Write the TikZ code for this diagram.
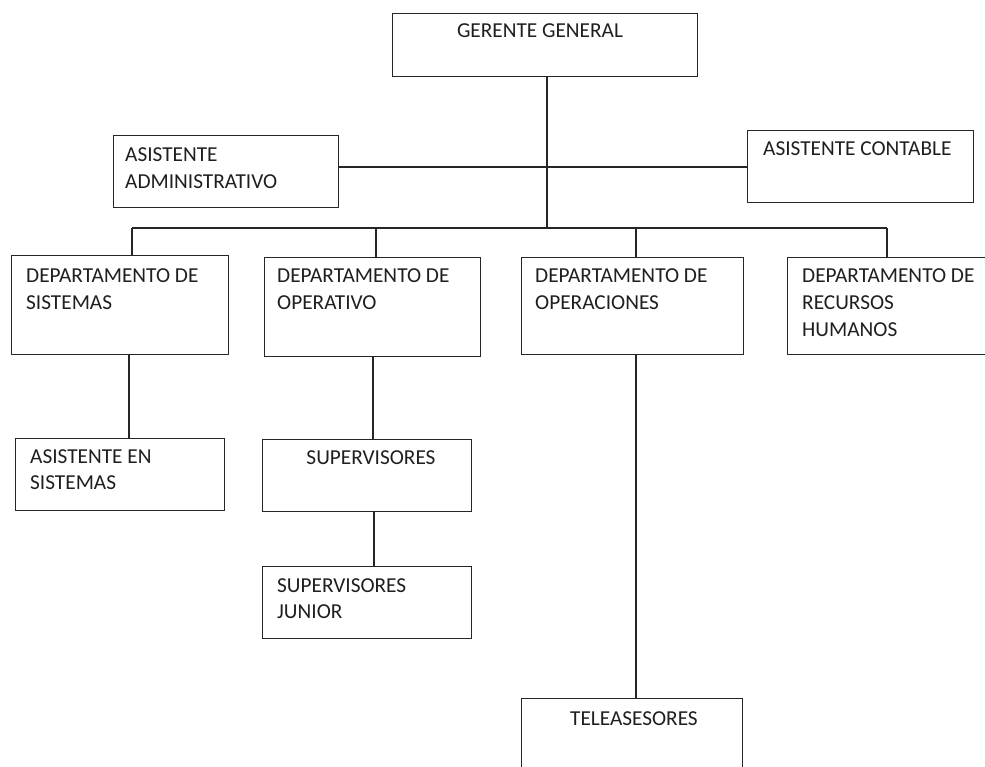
\documentclass[tikz,border=0pt]{standalone}
\usepackage{fontspec}
\setmainfont{Carlito}
\newcommand{\boxtxt}[1]{\parbox[t]{400pt}{\raggedright #1}}
\begin{document}
\begin{tikzpicture}[x=1pt,y=-1pt,
  box/.style={draw=black!85, line width=1.3pt, inner sep=0pt, anchor=north west},
  lbl/.style={inner sep=0pt, text=black!88, font=\fontsize{21.3}{26.6}\selectfont},
  conn/.style={draw=black!85, line width=1.3pt}]
\useasboundingbox (0,0) rectangle (985,767);
\fill[white] (0,0) rectangle (985,767);
\clip (0,0) rectangle (985,767);
% boxes
\node[box, minimum width=305pt, minimum height=63pt] (gg) at (392,13) {};
\node[box, minimum width=225pt, minimum height=72pt] (aa) at (113,135) {};
\node[box, minimum width=226pt, minimum height=72pt] (ac) at (747,130) {};
\node[box, minimum width=217pt, minimum height=99pt] (ds) at (11,255) {};
\node[box, minimum width=216pt, minimum height=99pt] (do) at (264,257) {};
\node[box, minimum width=222pt, minimum height=97pt] (dop) at (521,257) {};
\node[box, minimum width=223pt, minimum height=97pt] (dr) at (787,257) {};
\node[box, minimum width=209pt, minimum height=72pt] (as) at (15,438) {};
\node[box, minimum width=209pt, minimum height=72pt] (sup) at (262,439) {};
\node[box, minimum width=209pt, minimum height=72pt] (sj) at (262,566) {};
\node[box, minimum width=221pt, minimum height=100pt] (tel) at (521,698) {};
% labels
\node[lbl, anchor=base] (gg-t) at (540,38) {GERENTE GENERAL};
\node[lbl, anchor=base west] (aa-t) at (125,162) {\boxtxt{ASISTENTE\\ADMINISTRATIVO}};
\node[lbl, anchor=base west] (ac-t) at (763,156) {ASISTENTE CONTABLE};
\node[lbl, anchor=base west] (ds-t) at (26,283) {\boxtxt{DEPARTAMENTO DE\\SISTEMAS}};
\node[lbl, anchor=base west] (do-t) at (277,283) {\boxtxt{DEPARTAMENTO DE\\OPERATIVO}};
\node[lbl, anchor=base west] (dop-t) at (535,283) {\boxtxt{DEPARTAMENTO DE\\OPERACIONES}};
\node[lbl, anchor=base west] (dr-t) at (802,283) {\boxtxt{DEPARTAMENTO DE\\RECURSOS\\HUMANOS}};
\node[lbl, anchor=base west] (as-t) at (30,463) {\boxtxt{ASISTENTE EN\\SISTEMAS}};
\node[lbl, anchor=base] (sup-t) at (371,464) {SUPERVISORES};
\node[lbl, anchor=base west] (sj-t) at (277,592) {\boxtxt{SUPERVISORES\\JUNIOR}};
\node[lbl, anchor=base] (tel-t) at (634,725) {TELEASESORES};
% connector coordinates
\coordinate (busC) at (547,228);
\coordinate (busL) at (132,228);
\coordinate (bus2) at (376,228);
\coordinate (bus3) at (636,228);
\coordinate (busR) at (887,228);
\coordinate (side) at (547,167);
\coordinate (c1) at (129,0);
\coordinate (c2) at (373,0);
\coordinate (c3) at (374,0);
\coordinate (c4) at (636,0);
% connectors
\draw[conn] (gg.south -| busC) -- (busC);
\draw[conn] (aa.east |- side) -- (ac.west |- side);
\draw[conn] (busL) -- (busR);
\draw[conn] (busL) -- (busL |- ds.north);
\draw[conn] (bus2) -- (bus2 |- do.north);
\draw[conn] (bus3) -- (bus3 |- dop.north);
\draw[conn] (busR) -- (busR |- dr.north);
\draw[conn] (c1 |- ds.south) -- (c1 |- as.north);
\draw[conn] (c2 |- do.south) -- (c2 |- sup.north);
\draw[conn] (c3 |- sup.south) -- (c3 |- sj.north);
\draw[conn] (c4 |- dop.south) -- (c4 |- tel.north);
\end{tikzpicture}
\end{document}
